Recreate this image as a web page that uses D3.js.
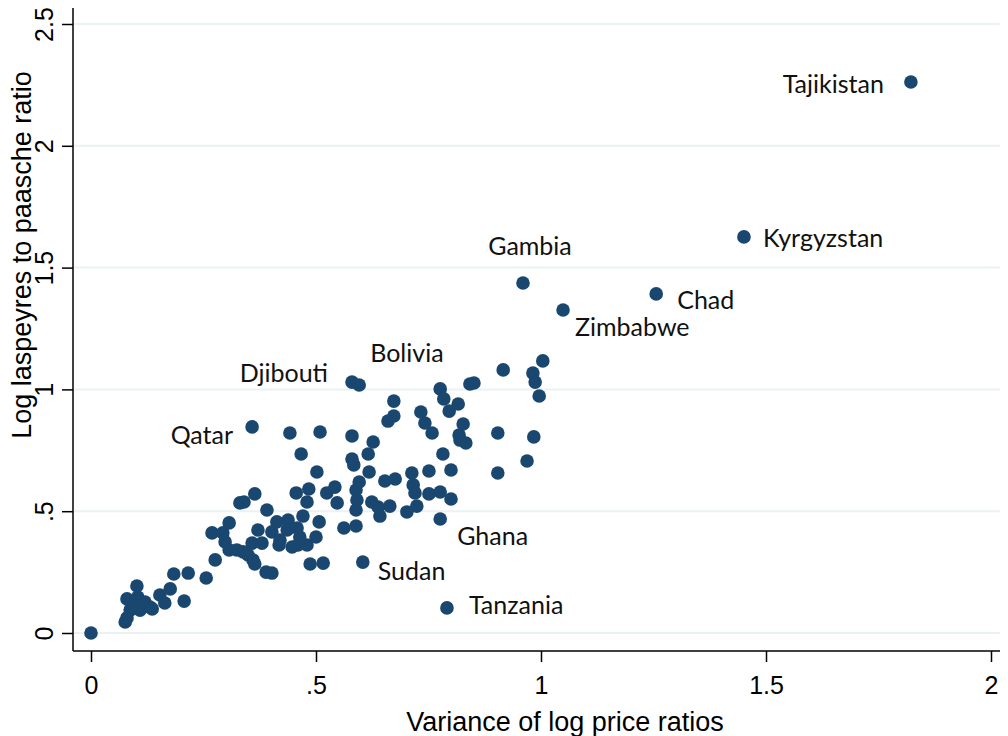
<!DOCTYPE html>
<html>
<head>
<meta charset="utf-8">
<script src="https://cdn.jsdelivr.net/npm/d3@7"></script>
<style>
  body { margin: 0; background: #fff; }
  text { font-family: "Liberation Sans", Arial, sans-serif; }
  .lbl { font-family: Lato, "Open Sans", sans-serif; }
</style>
</head>
<body>
<div class="chart"></div>
<script>
// country labels (blank = no label)
const countries = [
  "Tajikistan", "Kyrgyzstan", "Chad", "Zimbabwe", "Gambia", "Djibouti", "Bolivia",
  "Qatar", "Ghana", "Sudan", "Tanzania"
];
const labeledVar = [1.822, 1.451, 1.256, 1.049, 0.960, 0.580, 0.596, 0.358, 0.776, 0.604, 0.791];
const labeledRatio = [2.262, 1.626, 1.392, 1.326, 1.437, 1.030, 1.018, 0.846, 0.468, 0.291, 0.103];

// unlabeled countries: variance of log price ratios
const varLogPrice = [
  0, 1.004, 0.916, 0.982, 0.987, 0.996, 0.904, 0.984, 0.969, 0.904, 0.842, 0.851,
  0.776, 0.784, 0.816, 0.796, 0.673, 0.673, 0.660, 0.733, 0.742, 0.758, 0.827, 0.818,
  0.833, 0.820, 0.782, 0.751, 0.800, 0.713, 0.716, 0.720, 0.724, 0.702, 0.676, 0.653,
  0.751, 0.776, 0.800, 0.664, 0.642, 0.624, 0.638, 0.596, 0.589, 0.591, 0.589, 0.542,
  0.547, 0.580, 0.627, 0.616, 0.580, 0.584, 0.618, 0.562, 0.589, 0.442, 0.509, 0.467,
  0.502, 0.484, 0.480, 0.456, 0.524, 0.364, 0.331, 0.340, 0.391, 0.471, 0.507, 0.307,
  0.269, 0.293, 0.298, 0.307, 0.324, 0.338, 0.349, 0.360, 0.364, 0.371, 0.358, 0.380,
  0.413, 0.402, 0.420, 0.418, 0.438, 0.436, 0.458, 0.464, 0.460, 0.480, 0.447, 0.500,
  0.487, 0.516, 0.389, 0.402, 0.276, 0.256, 0.184, 0.216, 0.207, 0.102, 0.080, 0.104,
  0.120, 0.131, 0.153, 0.176, 0.164, 0.136, 0.109, 0.087, 0.080, 0.076, 0.093, 0.116
];
// unlabeled countries: log laspeyres to paasche ratio
const logRatio = [
  0, 1.117, 1.080, 1.067, 1.030, 0.973, 0.821, 0.805, 0.706, 0.657, 1.022, 1.026,
  1.002, 0.961, 0.940, 0.911, 0.952, 0.891, 0.870, 0.907, 0.862, 0.821, 0.858, 0.813,
  0.780, 0.792, 0.735, 0.665, 0.669, 0.657, 0.608, 0.575, 0.521, 0.497, 0.632, 0.624,
  0.571, 0.579, 0.550, 0.521, 0.480, 0.538, 0.517, 0.620, 0.587, 0.546, 0.505, 0.599,
  0.534, 0.809, 0.784, 0.735, 0.714, 0.690, 0.661, 0.431, 0.439, 0.821, 0.825, 0.735,
  0.661, 0.591, 0.538, 0.575, 0.575, 0.571, 0.534, 0.538, 0.505, 0.480, 0.456, 0.452,
  0.411, 0.411, 0.374, 0.341, 0.341, 0.333, 0.320, 0.300, 0.283, 0.423, 0.369, 0.369,
  0.456, 0.415, 0.382, 0.361, 0.464, 0.423, 0.431, 0.394, 0.361, 0.361, 0.353, 0.394,
  0.283, 0.287, 0.250, 0.246, 0.300, 0.226, 0.242, 0.246, 0.131, 0.193, 0.140, 0.148,
  0.127, 0.107, 0.156, 0.181, 0.123, 0.099, 0.094, 0.094, 0.062, 0.045, 0.107, 0.107
];

const xTicks = [0, 0.5, 1, 1.5, 2];
const xTickLabels = ["0", ".5", "1", "1.5", "2"];
const yTicks = [0, 0.5, 1, 1.5, 2, 2.5];
const yTickLabels = ["0", ".5", "1", "1.5", "2", "2.5"];

// label placement (pixel offsets from marker, text-anchor)
const labelPos = {
  Tajikistan: [-27, 11, "end"],
  Kyrgyzstan: [19, 10, "start"],
  Chad: [21, 15, "start"],
  Zimbabwe: [12, 26, "start"],
  Gambia: [7, -28, "middle"],
  Djibouti: [-24, 0, "end"],
  Bolivia: [11, -23, "start"],
  Qatar: [-19, 17, "end"],
  Ghana: [17, 26, "start"],
  Sudan: [15, 18, "start"],
  Tanzania: [22, 6, "start"]
};

const width = 1008, height = 736;
const navy = "#1a476f";

const svg = d3.select(".chart").append("svg")
  .attr("width", width).attr("height", height);

const x = d3.scaleLinear().domain([0, 2]).range([91, 991]);
const y = d3.scaleLinear().domain([0, 2.5]).range([633, 24]);

// gridlines
svg.append("g").selectAll("line").data(yTicks).join("line")
  .attr("x1", 74).attr("x2", 1000)
  .attr("y1", d => y(d)).attr("y2", d => y(d))
  .attr("stroke", "#eaf2f3").attr("stroke-width", 2);

// y axis
const yAxis = svg.append("g").attr("transform", "translate(73,0)")
  .call(d3.axisLeft(y).tickValues(yTicks).tickFormat((d, i) => yTickLabels[i]).tickSize(11).tickPadding(9));
yAxis.select(".domain").attr("d", "M0,8V651").attr("stroke", "#000").attr("stroke-width", 1.5);
yAxis.selectAll(".tick line").attr("stroke", "#000").attr("stroke-width", 1.5);
yAxis.selectAll(".tick text")
  .attr("font-size", 25).attr("fill", "#000")
  .attr("text-anchor", "middle")
  .attr("x", null).attr("dy", null)
  .attr("transform", "translate(-20,0) rotate(-90)")
  .attr("y", 0);

// x axis
const xAxis = svg.append("g").attr("transform", "translate(0,651)")
  .call(d3.axisBottom(x).tickValues(xTicks).tickFormat((d, i) => xTickLabels[i]).tickSize(11).tickPadding(14));
xAxis.select(".domain").attr("d", "M73,0H1000").attr("stroke", "#000").attr("stroke-width", 1.5);
xAxis.selectAll(".tick line").attr("stroke", "#000").attr("stroke-width", 1.5);
xAxis.selectAll(".tick text").attr("font-size", 25).attr("fill", "#000");

// axis titles
svg.append("text")
  .attr("x", 565).attr("y", 731)
  .attr("text-anchor", "middle").attr("font-size", 27).attr("fill", "#000")
  .text("Variance of log price ratios");
svg.append("text")
  .attr("transform", "translate(31,255) rotate(-90)")
  .attr("text-anchor", "middle").attr("font-size", 27).attr("fill", "#000")
  .text("Log laspeyres to paasche ratio");

// unlabeled markers
const pts = varLogPrice.map((v, i) => ({ v: v, r: logRatio[i] }));
svg.append("g").selectAll("circle").data(pts).join("circle")
  .attr("cx", d => x(d.v)).attr("cy", d => y(d.r))
  .attr("r", 6.8).attr("fill", navy);

// labeled markers
const labeled = countries.map((c, i) => ({ name: c, v: labeledVar[i], r: labeledRatio[i] }));
const lg = svg.append("g");
lg.selectAll("circle").data(labeled).join("circle")
  .attr("cx", d => x(d.v)).attr("cy", d => y(d.r))
  .attr("r", 6.8).attr("fill", navy);
lg.selectAll("text").data(labeled).join("text")
  .attr("class", "lbl")
  .attr("x", d => x(d.v) + labelPos[d.name][0])
  .attr("y", d => y(d.r) + labelPos[d.name][1])
  .attr("text-anchor", d => labelPos[d.name][2])
  .attr("font-size", 25).attr("fill", "#111")
  .text(d => d.name);
</script>
</body>
</html>
